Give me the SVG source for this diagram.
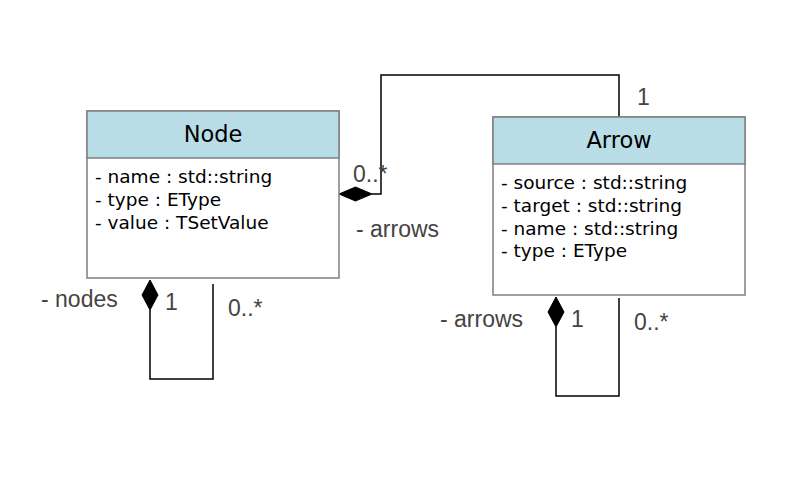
<svg xmlns="http://www.w3.org/2000/svg" width="802" height="487" viewBox="0 0 802 487">
<style>
.box{fill:#fff;stroke:#7f7f7f;stroke-width:1.5}
.hdr{fill:#b9dde7;stroke:#7f7f7f;stroke-width:1.5}
.title{font-family:"DejaVu Sans",sans-serif;font-size:22.5px;fill:#000;text-anchor:middle}
.attr{font-family:"DejaVu Sans",sans-serif;font-size:18.5px;fill:#000}
.lbl{font-family:"Liberation Sans",Arial,sans-serif;font-size:23px;fill:#444}
.line{fill:none;stroke:#000;stroke-width:1.5}
.dia{fill:#000;stroke:#000}
</style>
<rect width="802" height="487" fill="#fff"/>
<g id="connectors">
<polyline class="line" points="372,194 381,194 381,75 619,75 619,117"/>
<polygon class="dia" points="339,194 355.5,187 372,194 355.5,201"/>
<polyline class="line" points="150,310 150,379 213,379 213,284"/>
<polygon class="dia" points="150,280 158,295 150,310 142,295"/>
<polyline class="line" points="556,327 556,396 619,396 619,298"/>
<polygon class="dia" points="556,297 564,312 556,327 548,312"/>
<text class="lbl" x="637" y="105">1</text>
<text class="lbl" x="353" y="182">0..*</text>
<text class="lbl" x="356" y="237">- arrows</text>
<text class="lbl" x="41" y="307">- nodes</text>
<text class="lbl" x="165" y="310">1</text>
<text class="lbl" x="228" y="316">0..*</text>
<text class="lbl" x="440" y="327">- arrows</text>
<text class="lbl" x="571" y="327">1</text>
<text class="lbl" x="634" y="330">0..*</text>
</g>
<g id="node-Node">
<rect class="box" x="87" y="111" width="252" height="167"/>
<rect class="hdr" x="87" y="111" width="252" height="47"/>
<text class="title" x="213" y="142">Node</text>
<text class="attr" x="95" y="183">- name : std::string</text>
<text class="attr" x="95" y="206">- type : EType</text>
<text class="attr" x="95" y="229">- value : TSetValue</text>
</g>
<g id="node-Arrow">
<rect class="box" x="493" y="117" width="252" height="178"/>
<rect class="hdr" x="493" y="117" width="252" height="47"/>
<text class="title" x="619" y="148">Arrow</text>
<text class="attr" x="501" y="189">- source : std::string</text>
<text class="attr" x="501" y="212">- target : std::string</text>
<text class="attr" x="501" y="235">- name : std::string</text>
<text class="attr" x="501" y="257">- type : EType</text>
</g>
</svg>
